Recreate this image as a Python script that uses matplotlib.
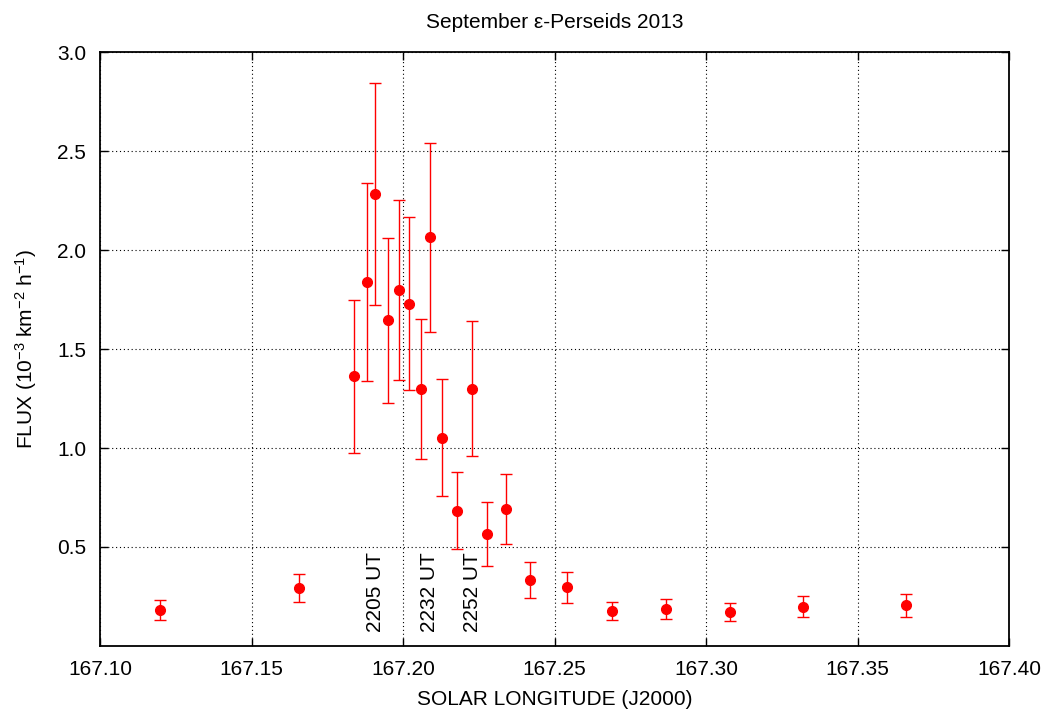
import matplotlib
matplotlib.use("Agg")
import matplotlib.pyplot as plt
import numpy as np

plt.rcParams['font.family'] = ['Liberation Sans', 'DejaVu Sans']
plt.rcParams['mathtext.default'] = 'regular'

# solar longitude (J2000), flux and error bar ends
lon = [167.1198, 167.1658, 167.1838, 167.1880, 167.1909, 167.1950, 167.1988,
       167.2019, 167.2058, 167.2088, 167.2129, 167.2178, 167.2229, 167.2278,
       167.2339, 167.2418, 167.2540, 167.2690, 167.2869, 167.3079, 167.3319,
       167.3659]
flux = [0.180, 0.293, 1.364, 1.838, 2.283, 1.646, 1.798, 1.727, 1.300, 2.064,
        1.052, 0.684, 1.300, 0.566, 0.690, 0.332, 0.296, 0.177, 0.187, 0.170,
        0.199, 0.205]
flux_hi = [0.231, 0.365, 1.747, 2.338, 2.845, 2.061, 2.254, 2.167, 1.653, 2.542,
           1.348, 0.877, 1.643, 0.727, 0.867, 0.423, 0.375, 0.222, 0.237, 0.217,
           0.253, 0.264]
flux_lo = [0.130, 0.221, 0.975, 1.338, 1.721, 1.229, 1.342, 1.291, 0.944, 1.587,
           0.756, 0.492, 0.958, 0.406, 0.515, 0.242, 0.217, 0.130, 0.136, 0.125,
           0.145, 0.145]

# times marked on the plot
mark_lon = [167.1909, 167.2088, 167.2229]
mark_txt = ['2205 UT', '2232 UT', '2252 UT']

flux = np.array(flux)
yerr = [flux - np.array(flux_lo), np.array(flux_hi) - flux]

fig = plt.figure(figsize=(10.43, 7.13), dpi=100)
ax = fig.add_axes([0.0959, 0.094, 0.8715, 0.833])

ax.errorbar(lon, flux, yerr=yerr, fmt='o', color='#ff0000', ms=7,
            elinewidth=1, capsize=4.5, capthick=1, zorder=3)

for x, t in zip(mark_lon, mark_txt):
    ax.text(x, 0.07, t, rotation=90, ha='center', va='bottom', fontsize=15)

ax.set_xlim(167.10, 167.40)
ax.set_ylim(0, 3.0)
ax.set_xticks(np.arange(167.10, 167.401, 0.05))
ax.set_xticklabels(['%.2f' % v for v in np.arange(167.10, 167.401, 0.05)])
ax.set_yticks([0.5, 1.0, 1.5, 2.0, 2.5, 3.0])
ax.set_yticklabels(['0.5', '1.0', '1.5', '2.0', '2.5', '3.0'])
ax.grid(True, color='black', linestyle=(0, (1, 2.5)), linewidth=0.8)
ax.tick_params(direction='in', top=True, right=True, length=6, width=1,
               labelsize=15, pad=10)
for s in ax.spines.values():
    s.set_linewidth(1.3)

ax.set_xlabel('SOLAR LONGITUDE (J2000)', fontsize=15, labelpad=8)
ax.set_ylabel('FLUX (10$^{-3}$ km$^{-2}$ h$^{-1}$)', fontsize=15, labelpad=13)
ax.set_title('September \u03b5-Perseids 2013', fontsize=15, pad=17)

fig.savefig('out.png', dpi=100)
